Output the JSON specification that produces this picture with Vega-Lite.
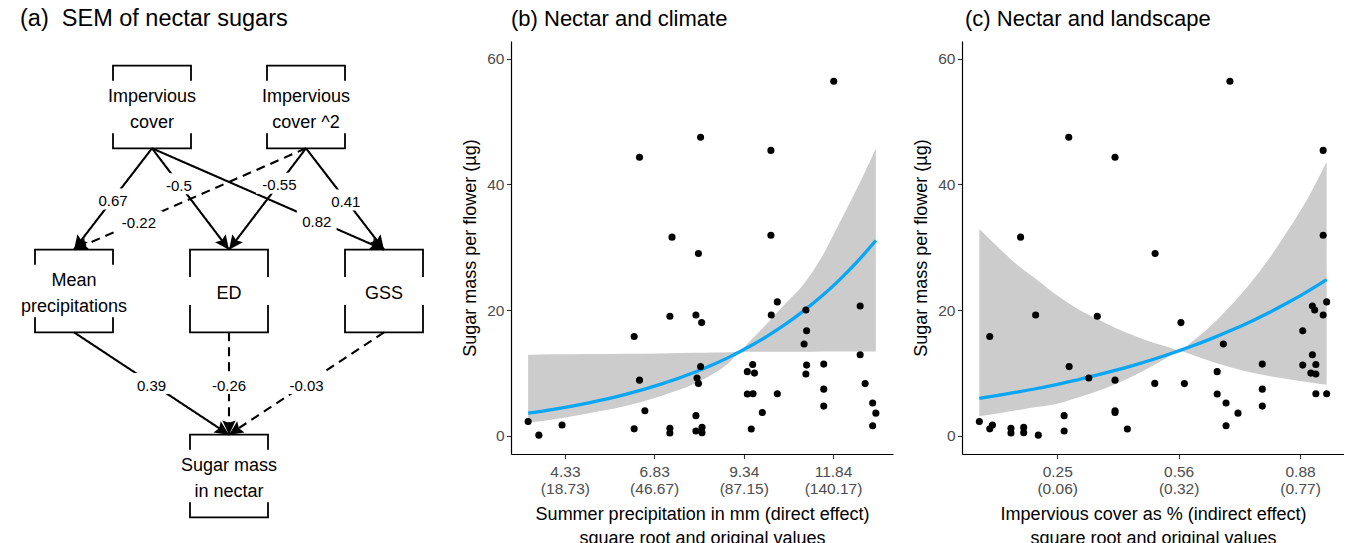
{
  "$schema": "https://vega.github.io/schema/vega-lite/v6.json",
  "padding": {"left": 0, "top": 7, "right": 0, "bottom": 0},
  "background": "white",
  "config": {
    "font": "Liberation Sans",
    "view": {"stroke": null},
    "axis": {"grid": false, "domainColor": "black", "domainWidth": 1.2, "tickColor": "#333333", "tickWidth": 1.1, "tickSize": 4.5, "labelColor": "#4D4D4D", "labelFontSize": 15.5, "labelPadding": 2.5, "titleFontSize": 18, "titleFontWeight": "normal", "titleColor": "black", "labelOverlap": false, "labelBound": false, "labelFlush": false},
    "axisX": {"labelPadding": 5.5},
    "title": {"fontWeight": "normal", "color": "black", "anchor": "start", "baseline": "alphabetic", "frame": "group"}
  },
  "datasets": {
    "nodes": [
      {"id": "IC", "label": "Impervious\ncover", "cx": 152, "cy": 66, "lines": 2},
      {"id": "IC2", "label": "Impervious\ncover ^2", "cx": 306, "cy": 66, "lines": 2},
      {"id": "MP", "label": "Mean\nprecipitations", "cx": 74, "cy": 250, "lines": 2},
      {"id": "ED", "label": "ED", "cx": 229, "cy": 250, "lines": 1},
      {"id": "GSS", "label": "GSS", "cx": 384, "cy": 250, "lines": 1},
      {"id": "SM", "label": "Sugar mass\nin nectar", "cx": 229, "cy": 435, "lines": 2}
    ],
    "edges": [
      {"from": "IC", "to": "MP", "coef": "0.67", "type": "solid", "at": 0.5},
      {"from": "IC", "to": "ED", "coef": "-0.5", "type": "solid", "at": 0.35},
      {"from": "IC", "to": "GSS", "coef": "0.82", "type": "solid", "at": 0.71},
      {"from": "IC2", "to": "MP", "coef": "-0.22", "type": "dashed", "at": 0.72},
      {"from": "IC2", "to": "ED", "coef": "-0.55", "type": "solid", "at": 0.345},
      {"from": "IC2", "to": "GSS", "coef": "0.41", "type": "solid", "at": 0.51},
      {"from": "MP", "to": "SM", "coef": "0.39", "type": "solid", "at": 0.5},
      {"from": "ED", "to": "SM", "coef": "-0.26", "type": "dashed", "at": 0.5},
      {"from": "GSS", "to": "SM", "coef": "-0.03", "type": "dashed", "at": 0.5}
    ],
    "obs": [
      {"p": 3.30, "i": 0.048, "s": 2.27}, {"p": 3.60, "i": 0.201, "s": 0.1}, {"p": 4.25, "i": 0.082, "s": 1.72},
      {"p": 6.27, "i": 0.075, "s": 15.8}, {"p": 6.42, "i": 0.400, "s": 8.85}, {"p": 6.57, "i": 0.400, "s": 3.97},
      {"p": 6.27, "i": 0.075, "s": 1.1}, {"p": 7.27, "i": 0.354, "s": 19.0}, {"p": 7.27, "i": 0.130, "s": 1.2},
      {"p": 7.27, "i": 0.130, "s": 0.45}, {"p": 8.00, "i": 0.194, "s": 19.2}, {"p": 8.16, "i": 0.571, "s": 18.0},
      {"p": 8.13, "i": 0.281, "s": 11.0}, {"p": 8.03, "i": 0.332, "s": 9.2}, {"p": 8.07, "i": 0.503, "s": 8.33},
      {"p": 8.00, "i": 0.268, "s": 3.2}, {"p": 8.00, "i": 0.268, "s": 0.75}, {"p": 8.17, "i": 0.163, "s": 1.33},
      {"p": 8.17, "i": 0.163, "s": 0.5}, {"p": 9.44, "i": 0.665, "s": 10.2}, {"p": 9.59, "i": 0.921, "s": 11.35},
      {"p": 9.64, "i": 0.908, "s": 9.97}, {"p": 9.44, "i": 0.665, "s": 6.65}, {"p": 9.60, "i": 0.921, "s": 6.68},
      {"p": 9.55, "i": 0.432, "s": 1.07}, {"p": 9.86, "i": 0.400, "s": 3.7}, {"p": 10.11, "i": 0.940, "s": 19.2},
      {"p": 10.28, "i": 0.949, "s": 21.3}, {"p": 10.28, "i": 0.949, "s": 6.68}, {"p": 11.08, "i": 0.918, "s": 20.0},
      {"p": 11.10, "i": 0.887, "s": 16.7}, {"p": 11.03, "i": 0.681, "s": 14.6}, {"p": 11.10, "i": 0.887, "s": 11.24},
      {"p": 11.08, "i": 0.921, "s": 9.84}, {"p": 11.58, "i": 0.782, "s": 11.4}, {"p": 11.58, "i": 0.782, "s": 7.42},
      {"p": 11.58, "i": 0.782, "s": 4.72}, {"p": 12.60, "i": 0.912, "s": 20.65}, {"p": 12.60, "i": 0.912, "s": 12.9},
      {"p": 12.74, "i": 0.580, "s": 8.3}, {"p": 12.95, "i": 0.688, "s": 5.22}, {"p": 13.04, "i": 0.719, "s": 3.6},
      {"p": 12.95, "i": 0.688, "s": 1.6}, {"p": 11.86, "i": 0.698, "s": 56.4}, {"p": 8.13, "i": 0.280, "s": 47.5},
      {"p": 6.42, "i": 0.400, "s": 44.3}, {"p": 10.10, "i": 0.940, "s": 45.4}, {"p": 7.33, "i": 0.155, "s": 31.6},
      {"p": 10.10, "i": 0.940, "s": 31.9}, {"p": 8.07, "i": 0.504, "s": 29.0}
    ],
    "fitB": [
      {"x": 3.30, "fit": 3.60, "lo": 2.1, "hi": 12.9},
      {"x": 4.0, "fit": 4.20, "lo": 2.6, "hi": 12.95},
      {"x": 5.0, "fit": 5.25, "lo": 3.6, "hi": 13.0},
      {"x": 6.0, "fit": 6.54, "lo": 4.7, "hi": 13.05},
      {"x": 7.0, "fit": 8.17, "lo": 6.3, "hi": 13.1},
      {"x": 8.0, "fit": 10.19, "lo": 8.4, "hi": 13.2},
      {"x": 8.5, "fit": 11.38, "lo": 9.9, "hi": 13.25},
      {"x": 9.0, "fit": 12.71, "lo": 12.0, "hi": 13.3},
      {"x": 9.2, "fit": 13.30, "lo": 13.25, "hi": 13.35},
      {"x": 9.5, "fit": 14.20, "lo": 13.35, "hi": 15.0},
      {"x": 10.0, "fit": 15.86, "lo": 13.35, "hi": 17.9},
      {"x": 10.5, "fit": 17.71, "lo": 13.35, "hi": 21.0},
      {"x": 11.0, "fit": 19.79, "lo": 13.35, "hi": 24.0},
      {"x": 11.5, "fit": 22.10, "lo": 13.4, "hi": 28.2},
      {"x": 12.0, "fit": 24.69, "lo": 13.4, "hi": 33.6},
      {"x": 12.5, "fit": 27.58, "lo": 13.4, "hi": 39.2},
      {"x": 13.04, "fit": 31.07, "lo": 13.4, "hi": 45.7}
    ],
    "fitC": [
      {"x": 0.048, "fit": 5.94, "lo": 3.1, "hi": 32.9},
      {"x": 0.10, "fit": 6.45, "lo": 3.6, "hi": 29.8},
      {"x": 0.15, "fit": 6.99, "lo": 4.1, "hi": 27.0},
      {"x": 0.20, "fit": 7.56, "lo": 4.6, "hi": 24.7},
      {"x": 0.25, "fit": 8.19, "lo": 5.1, "hi": 22.3},
      {"x": 0.30, "fit": 8.86, "lo": 6.0, "hi": 20.3},
      {"x": 0.35, "fit": 9.60, "lo": 7.0, "hi": 18.7},
      {"x": 0.40, "fit": 10.39, "lo": 8.2, "hi": 17.2},
      {"x": 0.45, "fit": 11.25, "lo": 9.6, "hi": 15.9},
      {"x": 0.50, "fit": 12.18, "lo": 11.2, "hi": 14.8},
      {"x": 0.54, "fit": 12.97, "lo": 12.6, "hi": 14.1},
      {"x": 0.567, "fit": 13.54, "lo": 13.5, "hi": 13.6},
      {"x": 0.60, "fit": 14.27, "lo": 12.9, "hi": 15.0},
      {"x": 0.65, "fit": 15.45, "lo": 11.8, "hi": 17.6},
      {"x": 0.70, "fit": 16.73, "lo": 10.9, "hi": 20.7},
      {"x": 0.75, "fit": 18.11, "lo": 10.1, "hi": 24.2},
      {"x": 0.80, "fit": 19.61, "lo": 9.5, "hi": 28.2},
      {"x": 0.85, "fit": 21.23, "lo": 9.0, "hi": 32.8},
      {"x": 0.90, "fit": 22.98, "lo": 8.5, "hi": 37.8},
      {"x": 0.949, "fit": 24.84, "lo": 8.1, "hi": 43.6}
    ]
  },
  "spacing": 69,
  "bounds": "flush",
  "hconcat": [
    {
      "width": 442,
      "height": 480,
      "title": {"text": "(a)\u00a0\u00a0SEM of nectar sugars", "fontSize": 23.5, "dx": 20, "offset": 10.5},
      "layer": [
        {
          "data": {"name": "nodes"},
          "transform": [
            {"calculate": "datum.cx - 39", "as": "x1"},
            {"calculate": "datum.cx + 39", "as": "x2"},
            {"calculate": "datum.cy - 41.3", "as": "y1"},
            {"calculate": "datum.cy + 41.3", "as": "y2"},
            {"calculate": "datum.lines == 2 ? 26.3 : 14", "as": "g"},
            {"calculate": "datum.cx - 45", "as": "wx1"},
            {"calculate": "datum.cx + 45", "as": "wx2"},
            {"calculate": "datum.cy - datum.g", "as": "wy1"},
            {"calculate": "datum.cy + datum.g", "as": "wy2"},
            {"calculate": "datum.cy - (datum.lines - 1) * 12.75 + 3", "as": "ty"}
          ],
          "layer": [
            {
              "mark": {"type": "rect", "filled": false, "color": "black", "stroke": "black", "strokeWidth": 1.8},
              "encoding": {
                "x": {"field": "x1", "type": "quantitative", "scale": {"domain": [0, 442], "nice": false, "zero": false}, "axis": null},
                "x2": {"field": "x2"},
                "y": {"field": "y1", "type": "quantitative", "scale": {"domain": [0, 480], "reverse": true, "nice": false, "zero": false}, "axis": null},
                "y2": {"field": "y2"}
              }
            },
            {
              "mark": {"type": "rect", "fill": "white", "strokeWidth": 0},
              "encoding": {
                "x": {"field": "wx1", "type": "quantitative", "scale": {"domain": [0, 442], "nice": false, "zero": false}, "axis": null},
                "x2": {"field": "wx2"},
                "y": {"field": "wy1", "type": "quantitative", "scale": {"domain": [0, 480], "reverse": true, "nice": false, "zero": false}, "axis": null},
                "y2": {"field": "wy2"}
              }
            },
            {
              "mark": {"type": "text", "fontSize": 18, "lineBreak": "\n", "lineHeight": 25.5, "baseline": "middle", "align": "center", "color": "black"},
              "encoding": {
                "x": {"field": "cx", "type": "quantitative", "scale": {"domain": [0, 442], "nice": false, "zero": false}, "axis": null},
                "y": {"field": "ty", "type": "quantitative", "scale": {"domain": [0, 480], "reverse": true, "nice": false, "zero": false}, "axis": null},
                "text": {"field": "label"}
              }
            }
          ]
        },
        {
          "data": {"name": "edges"},
          "transform": [
            {"lookup": "from", "from": {"data": {"name": "nodes"}, "key": "id", "fields": ["cx", "cy"]}, "as": ["fx", "fy"]},
            {"lookup": "to", "from": {"data": {"name": "nodes"}, "key": "id", "fields": ["cx", "cy"]}, "as": ["tx", "ty"]},
            {"calculate": "datum.fy + 41.3", "as": "ey1"},
            {"calculate": "datum.ty - 41.3", "as": "ey2"},
            {"calculate": "datum.fx + datum.at * (datum.tx - datum.fx)", "as": "lx"},
            {"calculate": "datum.ey1 + datum.at * (datum.ey2 - datum.ey1)", "as": "ly"},
            {"calculate": "datum.ly + 2", "as": "tly"},
            {"calculate": "atan2(datum.tx - datum.fx, -(datum.ey2 - datum.ey1)) * 180 / PI", "as": "ang"},
            {"calculate": "length(datum.coef) * 3.6 + 5.5", "as": "hw"},
            {"calculate": "datum.lx - datum.hw", "as": "bx1"},
            {"calculate": "datum.lx + datum.hw", "as": "bx2"},
            {"calculate": "datum.ly - 10.5", "as": "by1"},
            {"calculate": "datum.ly + 10.5", "as": "by2"}
          ],
          "layer": [
            {
              "mark": {"type": "rule", "strokeWidth": 2.1, "color": "black"},
              "encoding": {
                "x": {"field": "fx", "type": "quantitative", "scale": {"domain": [0, 442], "nice": false, "zero": false}, "axis": null},
                "x2": {"field": "tx"},
                "y": {"field": "ey1", "type": "quantitative", "scale": {"domain": [0, 480], "reverse": true, "nice": false, "zero": false}, "axis": null},
                "y2": {"field": "ey2"},
                "strokeDash": {"field": "type", "type": "nominal", "scale": {"domain": ["solid", "dashed"], "range": [[1, 0], [9, 6]]}, "legend": null}
              }
            },
            {
              "mark": {"type": "point", "shape": "M0,0L-0.7,1.5L0,1.25L0.7,1.5Z", "filled": true, "color": "black", "size": 361, "opacity": 1, "strokeWidth": 0},
              "encoding": {
                "x": {"field": "tx", "type": "quantitative", "scale": {"domain": [0, 442], "nice": false, "zero": false}, "axis": null},
                "y": {"field": "ey2", "type": "quantitative", "scale": {"domain": [0, 480], "reverse": true, "nice": false, "zero": false}, "axis": null},
                "angle": {"field": "ang", "type": "quantitative", "scale": null}
              }
            },
            {
              "mark": {"type": "rect", "fill": "white", "strokeWidth": 0},
              "encoding": {
                "x": {"field": "bx1", "type": "quantitative", "scale": {"domain": [0, 442], "nice": false, "zero": false}, "axis": null},
                "x2": {"field": "bx2"},
                "y": {"field": "by1", "type": "quantitative", "scale": {"domain": [0, 480], "reverse": true, "nice": false, "zero": false}, "axis": null},
                "y2": {"field": "by2"}
              }
            },
            {
              "mark": {"type": "text", "fontSize": 15, "baseline": "middle", "align": "center", "color": "black"},
              "encoding": {
                "x": {"field": "lx", "type": "quantitative", "scale": {"domain": [0, 442], "nice": false, "zero": false}, "axis": null},
                "y": {"field": "tly", "type": "quantitative", "scale": {"domain": [0, 480], "reverse": true, "nice": false, "zero": false}, "axis": null},
                "text": {"field": "coef"}
              }
            }
          ]
        }
      ]
    },
    {
      "width": 382,
      "height": 413,
      "title": {"text": "(b) Nectar and climate", "fontSize": 22, "offset": 10.5},
      "layer": [
        {
          "data": {"name": "fitB"},
          "mark": {"type": "area", "color": "#CCCCCC", "opacity": 1, "interpolate": "monotone"},
          "encoding": {
            "x": {"field": "x", "type": "quantitative", "scale": {"domain": [2.82, 13.52], "nice": false, "zero": false},
              "axis": {"values": [4.33, 6.83, 9.34, 11.84], "labelExpr": "datum.value == 4.33 ? ['4.33', '(18.73)'] : datum.value == 6.83 ? ['6.83', '(46.67)'] : datum.value == 9.34 ? ['9.34', '(87.15)'] : ['11.84', '(140.17)']", "labelLineHeight": 17.5, "title": ["Summer precipitation in mm (direct effect)", "square root and original values"], "titlePadding": 8.5, "titleLineHeight": 24}},
            "y": {"field": "lo", "type": "quantitative", "scale": {"domain": [-2.9, 62.8], "nice": false, "zero": false},
              "axis": {"values": [0, 20, 40, 60], "title": "Sugar mass per flower (µg)", "titlePadding": 7}},
            "y2": {"field": "hi"}
          }
        },
        {
          "data": {"name": "fitB"},
          "mark": {"type": "line", "color": "#0AA6F6", "strokeWidth": 3.3, "interpolate": "monotone"},
          "encoding": {
            "x": {"field": "x", "type": "quantitative", "scale": {"domain": [2.82, 13.52], "nice": false, "zero": false},
              "axis": {"values": [4.33, 6.83, 9.34, 11.84], "labelExpr": "datum.value == 4.33 ? ['4.33', '(18.73)'] : datum.value == 6.83 ? ['6.83', '(46.67)'] : datum.value == 9.34 ? ['9.34', '(87.15)'] : ['11.84', '(140.17)']", "labelLineHeight": 17.5, "title": ["Summer precipitation in mm (direct effect)", "square root and original values"], "titlePadding": 8.5, "titleLineHeight": 24}},
            "y": {"field": "fit", "type": "quantitative", "scale": {"domain": [-2.9, 62.8], "nice": false, "zero": false},
              "axis": {"values": [0, 20, 40, 60], "title": "Sugar mass per flower (µg)", "titlePadding": 7}}
          }
        },
        {
          "data": {"name": "obs"},
          "mark": {"type": "circle", "color": "black", "size": 50, "opacity": 1},
          "encoding": {
            "x": {"field": "p", "type": "quantitative", "scale": {"domain": [2.82, 13.52], "nice": false, "zero": false},
              "axis": {"values": [4.33, 6.83, 9.34, 11.84], "labelExpr": "datum.value == 4.33 ? ['4.33', '(18.73)'] : datum.value == 6.83 ? ['6.83', '(46.67)'] : datum.value == 9.34 ? ['9.34', '(87.15)'] : ['11.84', '(140.17)']", "labelLineHeight": 17.5, "title": ["Summer precipitation in mm (direct effect)", "square root and original values"], "titlePadding": 8.5, "titleLineHeight": 24}},
            "y": {"field": "s", "type": "quantitative", "scale": {"domain": [-2.9, 62.8], "nice": false, "zero": false},
              "axis": {"values": [0, 20, 40, 60], "title": "Sugar mass per flower (µg)", "titlePadding": 7}}
          }
        }
      ]
    },
    {
      "width": 382,
      "height": 413,
      "title": {"text": "(c) Nectar and landscape", "fontSize": 22, "offset": 10.5, "dx": 3},
      "layer": [
        {
          "data": {"name": "fitC"},
          "mark": {"type": "area", "color": "#CCCCCC", "opacity": 1, "interpolate": "monotone"},
          "encoding": {
            "x": {"field": "x", "type": "quantitative", "scale": {"domain": [0.003, 0.994], "nice": false, "zero": false},
              "axis": {"values": [0.25, 0.565, 0.88], "labelExpr": "datum.value == 0.25 ? ['0.25', '(0.06)'] : datum.value == 0.565 ? ['0.56', '(0.32)'] : ['0.88', '(0.77)']", "labelLineHeight": 17.5, "title": ["Impervious cover as % (indirect effect)", "square root and original values"], "titlePadding": 8.5, "titleLineHeight": 24}},
            "y": {"field": "lo", "type": "quantitative", "scale": {"domain": [-2.9, 62.8], "nice": false, "zero": false},
              "axis": {"values": [0, 20, 40, 60], "title": "Sugar mass per flower (µg)", "titlePadding": 7}},
            "y2": {"field": "hi"}
          }
        },
        {
          "data": {"name": "fitC"},
          "mark": {"type": "line", "color": "#0AA6F6", "strokeWidth": 3.3, "interpolate": "monotone"},
          "encoding": {
            "x": {"field": "x", "type": "quantitative", "scale": {"domain": [0.003, 0.994], "nice": false, "zero": false},
              "axis": {"values": [0.25, 0.565, 0.88], "labelExpr": "datum.value == 0.25 ? ['0.25', '(0.06)'] : datum.value == 0.565 ? ['0.56', '(0.32)'] : ['0.88', '(0.77)']", "labelLineHeight": 17.5, "title": ["Impervious cover as % (indirect effect)", "square root and original values"], "titlePadding": 8.5, "titleLineHeight": 24}},
            "y": {"field": "fit", "type": "quantitative", "scale": {"domain": [-2.9, 62.8], "nice": false, "zero": false},
              "axis": {"values": [0, 20, 40, 60], "title": "Sugar mass per flower (µg)", "titlePadding": 7}}
          }
        },
        {
          "data": {"name": "obs"},
          "mark": {"type": "circle", "color": "black", "size": 50, "opacity": 1},
          "encoding": {
            "x": {"field": "i", "type": "quantitative", "scale": {"domain": [0.003, 0.994], "nice": false, "zero": false},
              "axis": {"values": [0.25, 0.565, 0.88], "labelExpr": "datum.value == 0.25 ? ['0.25', '(0.06)'] : datum.value == 0.565 ? ['0.56', '(0.32)'] : ['0.88', '(0.77)']", "labelLineHeight": 17.5, "title": ["Impervious cover as % (indirect effect)", "square root and original values"], "titlePadding": 8.5, "titleLineHeight": 24}},
            "y": {"field": "s", "type": "quantitative", "scale": {"domain": [-2.9, 62.8], "nice": false, "zero": false},
              "axis": {"values": [0, 20, 40, 60], "title": "Sugar mass per flower (µg)", "titlePadding": 7}}
          }
        }
      ]
    }
  ]
}
